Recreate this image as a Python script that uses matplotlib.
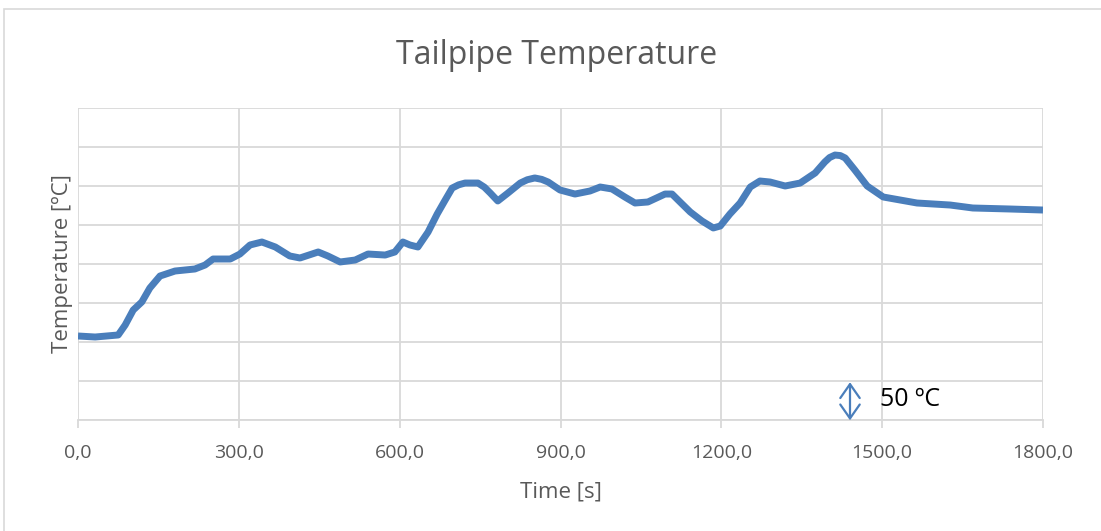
import matplotlib
matplotlib.use("Agg")
import matplotlib.pyplot as plt
from matplotlib.patches import Rectangle

# time [s] and temperature (relative, 50 degC per gridline)
time_s = [0, 32, 75, 88, 103, 119, 134, 153, 181, 218, 237, 252, 284, 302, 321,
          343, 368, 395, 414, 448, 466, 489, 517, 541, 573, 591, 606, 619, 634,
          653, 670, 685, 698, 710, 722, 746, 758, 769, 783, 802, 825, 838, 852,
          865, 877, 899, 927, 955, 974, 996, 1020, 1039, 1063, 1095, 1108, 1123,
          1142, 1164, 1185, 1198, 1216, 1235, 1254, 1272, 1291, 1319, 1347,
          1375, 1393, 1402, 1412, 1422, 1431, 1449, 1472, 1502, 1533, 1565,
          1627, 1669, 1739, 1800]
temp = [107.7, 106.4, 109.0, 121.8, 141.0, 151.3, 169.2, 184.6, 191.0, 193.6,
        198.7, 206.4, 206.4, 212.8, 224.4, 228.2, 221.8, 210.3, 207.7, 215.4,
        210.3, 202.6, 205.1, 212.8, 211.5, 215.4, 228.2, 224.4, 221.8, 241.0,
        264.1, 282.1, 297.4, 301.5, 303.8, 303.8, 298.5, 291.0, 280.8, 291.0,
        303.8, 308.0, 310.3, 308.5, 305.1, 294.9, 289.7, 293.6, 298.7, 296.2,
        285.9, 278.2, 279.5, 289.7, 289.7, 279.5, 266.7, 255.1, 246.2, 248.7,
        264.1, 278.2, 298.7, 306.4, 305.1, 300.0, 303.8, 316.7, 330.8, 336.5,
        339.7, 339.0, 335.9, 320.5, 300.0, 285.9, 282.1, 278.2, 275.6, 271.8,
        270.5, 269.2]

x_ticks = [0, 300, 600, 900, 1200, 1500, 1800]
x_labels = ["0,0", "300,0", "600,0", "900,0", "1200,0", "1500,0", "1800,0"]

blue = "#4a7ebb"
grid = "#d9d9d9"
txt = "#595959"

plt.rcParams["font.family"] = ["Open Sans", "DejaVu Sans"]

fig = plt.figure(figsize=(11.01, 5.31), dpi=100)
fig.patches.append(Rectangle((4 / 1101, -0.1), 1.2, 1 - 9 / 531 + 0.1,
                             transform=fig.transFigure, fill=False,
                             edgecolor=grid, lw=1.2))
ax = fig.add_axes([78 / 1101, 1 - 420 / 531, 965 / 1101, 312 / 531])

ax.plot(time_s, temp, color=blue, lw=5, solid_joinstyle="round",
        solid_capstyle="butt")

ax.set_xlim(0, 1800)
ax.set_ylim(0, 400)
ax.set_xticks(x_ticks)
ax.set_xticklabels(x_labels, color=txt, fontsize=14)
ax.set_yticks(range(0, 401, 50))
ax.set_yticklabels([])
ax.tick_params(axis="y", length=0)
ax.tick_params(axis="x", length=6, color=grid, width=1.3, pad=11)
ax.grid(True, color=grid, lw=1.3)
ax.set_axisbelow(True)
for s in ["top", "right", "left"]:
    ax.spines[s].set_visible(False)
ax.spines["bottom"].set_color(grid)
ax.spines["bottom"].set_linewidth(1.3)

fig.text(557 / 1101, 1 - 55 / 531, "Tailpipe Temperature", color=txt,
         fontsize=23, ha="center", va="center")
ax.set_xlabel("Time [s]", color=txt, fontsize=16, labelpad=14)
ax.set_ylabel("Temperature [ºC]", color=txt, fontsize=16, labelpad=0)

# 50 degC scale arrow
ax.annotate("", xy=(1440, -4), xytext=(1440, 52),
            arrowprops=dict(arrowstyle="<->,head_width=0.7,head_length=1.0",
                            color=blue, lw=1.6), annotation_clip=False)
ax.text(1496, 26, "50 ºC", color="black", fontsize=18, va="center", ha="left")

fig.savefig("out.png", dpi=100)
